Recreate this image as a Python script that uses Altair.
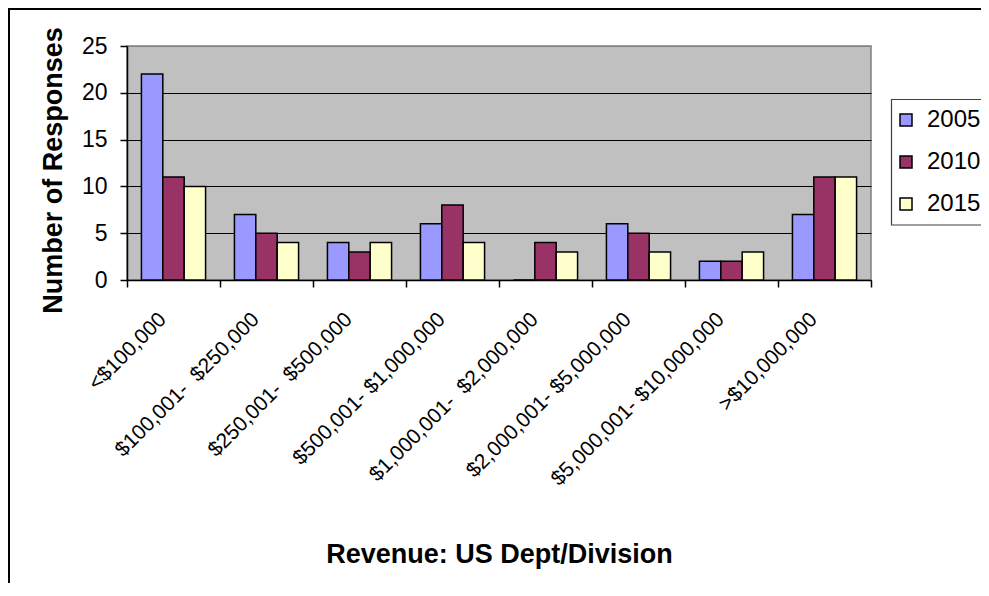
import altair as alt
import pandas as pd

categories = [
    "<$100,000",
    "$100,001-\u00a0 $250,000",
    "$250,001-\u00a0 $500,000",
    "$500,001- $1,000,000",
    "$1,000,001-\u00a0 $2,000,000",
    "$2,000,001- $5,000,000",
    "$5,000,001- $10,000,000",
    ">$10,000,000",
]
years = ["2005", "2010", "2015"]
v2005 = [22, 7, 4, 6, 0, 6, 2, 7]
v2010 = [11, 5, 3, 8, 4, 5, 2, 11]
v2015 = [10, 4, 4, 4, 3, 3, 3, 11]
colors = ["#9999FF", "#993366", "#FFFFCC"]

rows = []
for yr, vals in zip(years, [v2005, v2010, v2015]):
    for c, v in zip(categories, vals):
        rows.append({"cat": c, "year": yr, "n": v})
df = pd.DataFrame(rows)

FONT = "Liberation Sans"

bars = alt.Chart(df).mark_bar(stroke="black", strokeWidth=1.5).encode(
    x=alt.X(
        "cat:N",
        sort=categories,
        scale=alt.Scale(paddingInner=0, paddingOuter=0),
        axis=alt.Axis(
            title="Revenue: US Dept/Division",
            titleFont=FONT,
            titleFontSize=27,
            titleFontWeight="bold",
            titleColor="black",
            titleY=282,
            titleBaseline="alphabetic",
            labelAngle=315,
            labelAlign="right",
            labelBaseline="middle",
            labelFont=FONT,
            labelFontSize=21,
            labelColor="black",
            labelPadding=29,
            labelOffset=-11,
            labelOverlap=False,
            labelLimit=400,
            tickBand="extent",
            tickSize=7,
            tickColor="black",
            tickWidth=1.5,
            domainColor="black",
            domainWidth=1.5,
            grid=False,
        ),
    ),
    xOffset=alt.XOffset(
        "year:N", sort=years, scale=alt.Scale(paddingInner=0, paddingOuter=0.675)
    ),
    y=alt.Y(
        "n:Q",
        scale=alt.Scale(domain=[0, 25], nice=False),
        axis=alt.Axis(
            title="Number of Responses",
            titleFont=FONT,
            titleFontSize=27,
            titleFontWeight="bold",
            titleColor="black",
            titleAngle=270,
            titleAlign="center",
            titleBaseline="alphabetic",
            titleX=-66,
            titleY=124,
            values=[0, 5, 10, 15, 20, 25],
            labelFont=FONT,
            labelFontSize=23,
            labelColor="black",
            labelPadding=13,
            tickSize=7,
            tickColor="black",
            tickWidth=1.5,
            domainColor="black",
            domainWidth=1.5,
            grid=True,
            gridColor={
                "condition": {"test": "datum.value === 25", "value": "#808080"},
                "value": "black",
            },
            gridWidth=1,
        ),
    ),
    color=alt.Color(
        "year:N",
        sort=years,
        scale=alt.Scale(domain=years, range=colors),
        legend=alt.Legend(
            orient="none",
            legendX=764,
            legendY=53,
            title=None,
            symbolType="square",
            symbolSize=144,
            symbolStrokeColor="black",
            symbolStrokeWidth=1.5,
            symbolOffset=-6,
            labelFont=FONT,
            labelFontSize=24,
            labelColor="black",
            labelOffset=9,
            rowPadding=18,
            padding=9,
            strokeColor="transparent",
        ),
    ),
)

frame_df = pd.DataFrame({"k": [0]})
# legend frame (right side runs off the page, as in the reference)
legend_box = alt.Chart(frame_df).mark_rect(
    fill="white", stroke="#404040", strokeWidth=1.2
).encode(x=alt.value(764.5), x2=alt.value(880), y=alt.value(53.5), y2=alt.value(179))
frame_left = alt.Chart(frame_df).mark_rule(color="black", strokeWidth=2).encode(
    x=alt.value(-118), y=alt.value(-38), y2=alt.value(600)
)
frame_top = alt.Chart(frame_df).mark_rule(color="black", strokeWidth=2).encode(
    x=alt.value(-119), x2=alt.value(900), y=alt.value(-37)
)

chart = (
    alt.layer(legend_box, bars, frame_left, frame_top)
    .properties(
        width=744,
        height=234,
        autosize=alt.AutoSizeParams(type="none"),
        padding={"left": 119, "top": 38, "right": 110, "bottom": 303},
        background="white",
    )
    .configure_view(fill="#C0C0C0", stroke="#808080", strokeWidth=1.5)
)

chart.save("out.html", embed_options={"renderer": "svg", "actions": False})
